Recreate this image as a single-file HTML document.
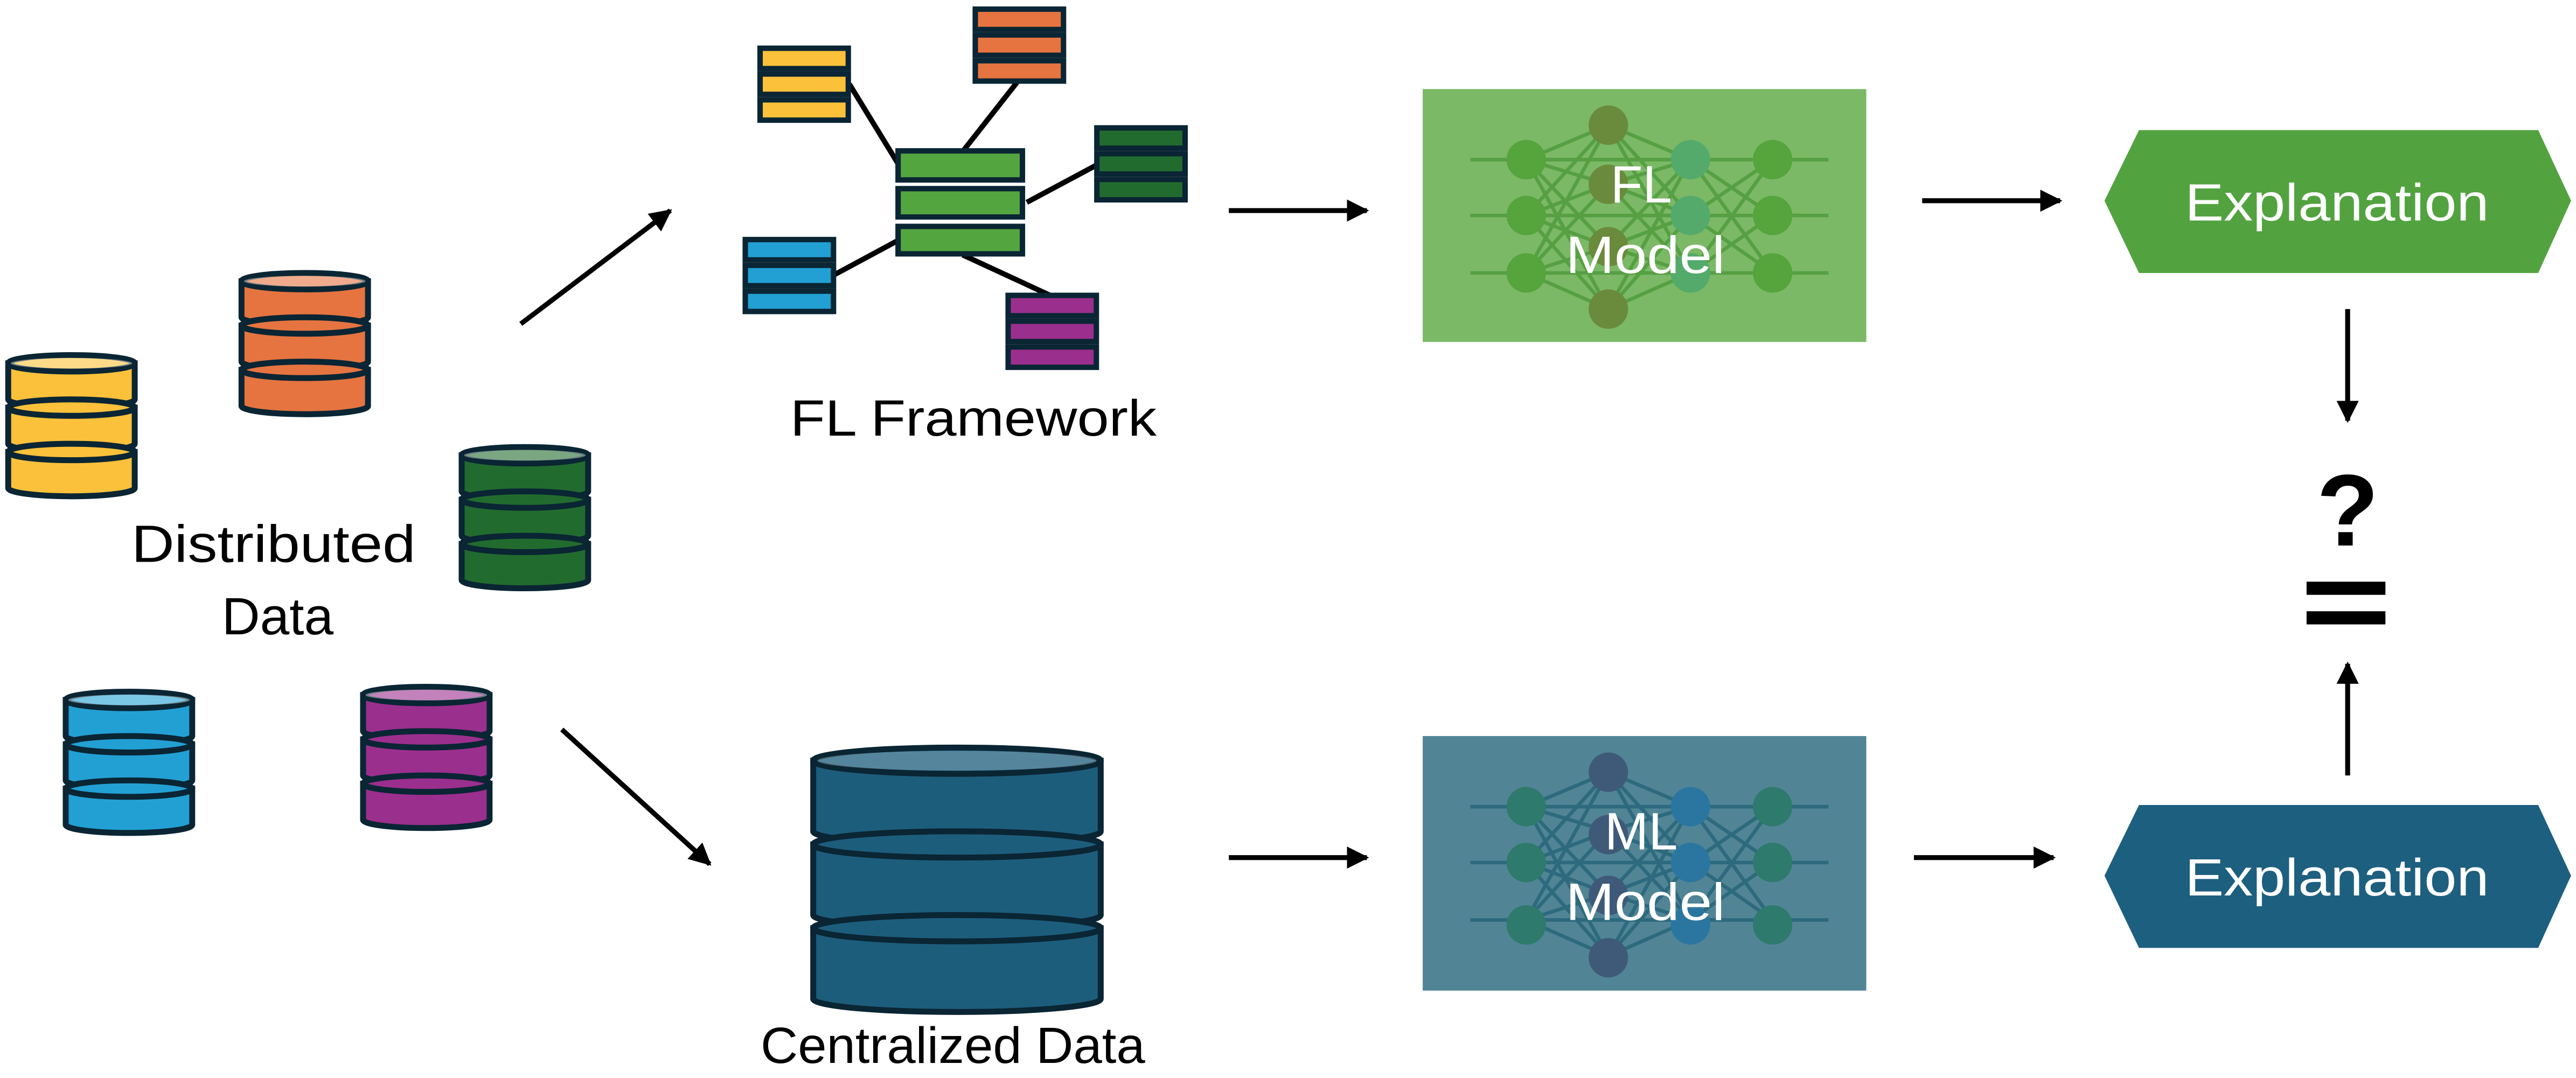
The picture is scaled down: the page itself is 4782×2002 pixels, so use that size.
<!DOCTYPE html>
<html><head><meta charset="utf-8"><style>
html,body{margin:0;padding:0;background:#fff;}
svg{display:block;}
text{font-family:"Liberation Sans",sans-serif;}
</style></head><body>
<svg width="4782" height="2002" viewBox="0 0 1568 656" xmlns="http://www.w3.org/2000/svg">
<defs>
<marker id="ah" viewBox="0 0 10 10" refX="9" refY="5" markerWidth="4.5" markerHeight="4.5" orient="auto" markerUnits="strokeWidth">
<path d="M0,0 L10,5 L0,10 Z" fill="#000"/></marker>
<g id="cyl" stroke="#0a2533" stroke-width="3.6">
<path d="M0,5 V27 A38.5,5 0 0 0 77,27 V5 Z" fill="currentColor"/>
<ellipse cx="38.5" cy="5" rx="38.5" ry="5" fill="currentColor"/>
<ellipse cx="38.5" cy="5" rx="37" ry="3.3" fill="#fff" fill-opacity="0.4" stroke="none"/>
<path d="M0,32 V54 A38.5,5 0 0 0 77,54 V32 Z" fill="currentColor"/>
<ellipse cx="38.5" cy="32" rx="38.5" ry="5" fill="currentColor"/>
<path d="M0,59 V81 A38.5,5 0 0 0 77,81 V59 Z" fill="currentColor"/>
<ellipse cx="38.5" cy="59" rx="38.5" ry="5" fill="currentColor"/>
</g>
<g id="stk">
<rect x="0" y="0" width="57" height="15.7" fill="#0a2533"/>
<rect x="3.3" y="3.3" width="50.4" height="9.1" fill="currentColor"/>
<rect x="0" y="15.7" width="57" height="15.7" fill="#0a2533"/>
<rect x="3.3" y="19" width="50.4" height="9.1" fill="currentColor"/>
<rect x="0" y="31.4" width="57" height="15.7" fill="#0a2533"/>
<rect x="3.3" y="34.7" width="50.4" height="9.1" fill="currentColor"/>
</g>
<path id="nnl" fill="none" stroke="currentColor" stroke-width="2.2" d="M29,43H247M29,77H247M29,112H247
M63,43L113,22M63,43L113,58M63,43L113,96M63,43L113,134M63,77L113,22M63,77L113,58M63,77L113,96M63,77L113,134M63,112L113,22M63,112L113,58M63,112L113,96M63,112L113,134
M113,22L163,43M113,22L163,77M113,22L163,112M113,58L163,43M113,58L163,77M113,58L163,112M113,96L163,43M113,96L163,77M113,96L163,112M113,134L163,43M113,134L163,77M113,134L163,112
M163,43L213,43M163,43L213,77M163,43L213,112M163,77L213,43M163,77L213,77M163,77L213,112M163,112L213,43M163,112L213,77M163,112L213,112"/>
</defs>

<use href="#cyl" x="5" y="216" color="#fbc13a"/>
<use href="#cyl" x="147" y="166" color="#e57440"/>
<use href="#cyl" x="281" y="272" color="#226b2e"/>
<use href="#cyl" x="40" y="421" color="#22a0d4"/>
<use href="#cyl" x="221" y="418" color="#9b2f8e"/>
<text x="80" y="342" font-size="32" textLength="173" lengthAdjust="spacingAndGlyphs">Distributed</text>
<text x="135" y="386" font-size="32" textLength="68" lengthAdjust="spacingAndGlyphs">Data</text>

<g stroke="#000" stroke-width="3" marker-end="url(#ah)">
<line x1="317" y1="197" x2="408" y2="128"/>
<line x1="342" y1="444" x2="432" y2="526"/>
<line x1="748" y1="128" x2="832" y2="128"/>
<line x1="1170" y1="122" x2="1254" y2="122"/>
<line x1="1429" y1="188" x2="1429" y2="256"/>
<line x1="1429" y1="472" x2="1429" y2="404"/>
<line x1="1165" y1="522" x2="1250" y2="522"/>
<line x1="748" y1="522" x2="832" y2="522"/>
</g>

<g stroke="#000" stroke-width="3.2">
<line x1="517" y1="51" x2="547" y2="100"/>
<line x1="619" y1="50" x2="586" y2="92"/>
<line x1="668" y1="100" x2="625" y2="123"/>
<line x1="547" y1="146" x2="508" y2="167"/>
<line x1="586" y1="155" x2="640" y2="180"/>
</g>
<use href="#stk" x="461" y="27.5" color="#fbc13a"/>
<use href="#stk" x="592" y="3.7" color="#e57440"/>
<use href="#stk" x="666" y="76" color="#226b2e"/>
<use href="#stk" x="452" y="144" color="#22a0d4"/>
<use href="#stk" x="612" y="178" color="#9b2f8e"/>
<g>
<rect x="545" y="90" width="79" height="21" fill="#0a2533"/><rect x="548.3" y="93.3" width="72.4" height="14.4" fill="#53a540"/>
<rect x="545" y="113" width="79" height="20.5" fill="#0a2533"/><rect x="548.3" y="116.3" width="72.4" height="14" fill="#53a540"/>
<rect x="545" y="136" width="79" height="20" fill="#0a2533"/><rect x="548.3" y="139.3" width="72.4" height="13.4" fill="#53a540"/>
</g>
<text x="481" y="265" font-size="31" textLength="223" lengthAdjust="spacingAndGlyphs">FL Framework</text>

<g stroke="#0a2533" stroke-width="3.6" fill="#1d5d7c">
<path d="M495,463 V506 A87.5,8 0 0 0 670,506 V463 Z"/>
<ellipse cx="582.5" cy="463" rx="87.5" ry="8"/>
<ellipse cx="582.5" cy="463" rx="85" ry="6" fill="#fff" fill-opacity="0.25" stroke="none"/>
<path d="M495,514 V557 A87.5,8 0 0 0 670,557 V514 Z"/>
<ellipse cx="582.5" cy="514" rx="87.5" ry="8"/>
<path d="M495,565 V608 A87.5,8 0 0 0 670,608 V565 Z"/>
<ellipse cx="582.5" cy="565" rx="87.5" ry="8"/>
</g>
<text x="463" y="647" font-size="31" textLength="234" lengthAdjust="spacingAndGlyphs">Centralized Data</text>

<rect x="866" y="54" width="270" height="154" fill="#7bb966"/>
<g transform="translate(866,54)">
<use href="#nnl" color="#56a043"/>
<g fill="#55a43c"><circle cx="63" cy="43" r="12"/><circle cx="63" cy="77" r="12"/><circle cx="63" cy="112" r="12"/>
<circle cx="213" cy="43" r="12"/><circle cx="213" cy="77" r="12"/><circle cx="213" cy="112" r="12"/></g>
<g fill="#6a8a3c"><circle cx="113" cy="22" r="12"/><circle cx="113" cy="58" r="12"/><circle cx="113" cy="96" r="12"/><circle cx="113" cy="134" r="12"/></g>
<g fill="#54aa6a"><circle cx="163" cy="43" r="12"/><circle cx="163" cy="77" r="12"/><circle cx="163" cy="112" r="12"/></g>
</g>
<text x="999" y="123" font-size="32" fill="#fff" text-anchor="middle">FL</text>
<text x="953" y="166" font-size="32" fill="#fff" textLength="97" lengthAdjust="spacingAndGlyphs">Model</text>

<rect x="866" y="448" width="270" height="155" fill="#518596"/>
<g transform="translate(866,448)">
<use href="#nnl" color="#2d6a7e"/>
<g fill="#2e7a6c"><circle cx="63" cy="43" r="12"/><circle cx="63" cy="77" r="12"/><circle cx="63" cy="115" r="12"/>
<circle cx="213" cy="43" r="12"/><circle cx="213" cy="77" r="12"/><circle cx="213" cy="115" r="12"/></g>
<g fill="#3f5a78"><circle cx="113" cy="22" r="12"/><circle cx="113" cy="60" r="12"/><circle cx="113" cy="97" r="12"/><circle cx="113" cy="135" r="12"/></g>
<g fill="#2b76a0"><circle cx="163" cy="43" r="12"/><circle cx="163" cy="77" r="12"/><circle cx="163" cy="115" r="12"/></g>
</g>
<text x="999" y="517" font-size="32" fill="#fff" text-anchor="middle">ML</text>
<text x="953" y="560" font-size="32" fill="#fff" textLength="97" lengthAdjust="spacingAndGlyphs">Model</text>

<polygon points="1281,122 1302,79 1545,79 1565,122 1545,166 1302,166" fill="#52a33f"/>
<text x="1330" y="134" font-size="32" fill="#fff" textLength="185" lengthAdjust="spacingAndGlyphs">Explanation</text>
<polygon points="1281,533 1302,490 1545,490 1565,533 1545,577 1302,577" fill="#1d5f7f"/>
<text x="1330" y="545" font-size="32" fill="#fff" textLength="185" lengthAdjust="spacingAndGlyphs">Explanation</text>

<text x="1429" y="332" font-size="62" font-weight="bold" text-anchor="middle">?</text>
<rect x="1404" y="354" width="48" height="8" fill="#000"/>
<rect x="1404" y="372" width="48" height="8" fill="#000"/>
</svg>
</body></html>
